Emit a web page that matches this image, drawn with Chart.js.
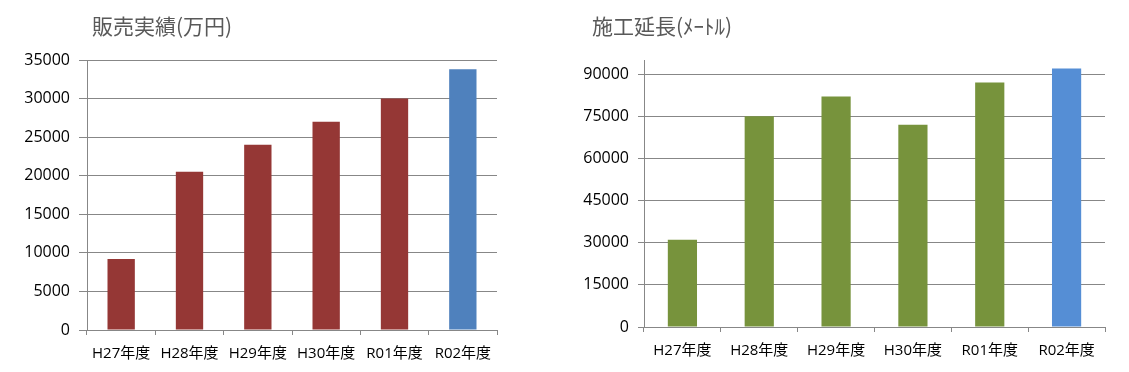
<!DOCTYPE html>
<html>
<head>
<meta charset="utf-8">
<script src="https://cdn.jsdelivr.net/npm/chart.js@4"></script>
<style>
  body { margin: 0; background: #fff; width: 1129px; height: 372px; overflow: hidden; position: relative; }
  .box { position: absolute; top: 0; height: 372px; }
  .title { position: absolute; font-family: "Noto Sans CJK JP", sans-serif; font-size: 21px; color: #595959; white-space: nowrap; line-height: 1; }
</style>
</head>
<body>
<div class="box" style="left:0;width:540px"><canvas id="salesChart"></canvas></div>
<div class="box" style="left:560px;width:569px"><canvas id="lengthChart"></canvas></div>
<div class="title" style="left:92px;top:15px">販売実績(万円)</div>
<div class="title" style="left:592px;top:15px">施工延長(ﾒｰﾄﾙ)</div>
<script>
  const years = ["H27年度", "H28年度", "H29年度", "H30年度", "R01年度", "R02年度"];
  const sales = [9200, 20500, 24000, 27000, 30000, 33800];
  const lengths = [31000, 75000, 82000, 72000, 87000, 92000];
  const salesTicks = [0, 5000, 10000, 15000, 20000, 25000, 30000, 35000];
  const lengthTicks = [0, 15000, 30000, 45000, 60000, 75000, 90000];
  const salesColors = ["#953735", "#953735", "#953735", "#953735", "#953735", "#4F81BD"];
  const lengthColors = ["#77933C", "#77933C", "#77933C", "#77933C", "#77933C", "#558ED5"];

  const yFont = { family: "'Open Sans', 'Noto Sans CJK JP', sans-serif", size: 16 };
  const xFont = { family: "'Open Sans', 'Noto Sans CJK JP', sans-serif", size: 15 };
  const grey = "#878787";

  function makeChart(id, values, colors, tickVals, max, opts) {
    var ctx = document.getElementById(id).getContext("2d");
    return new Chart(ctx, {
      type: "bar",
      data: {
        labels: years,
        datasets: [
          {
            data: values,
            backgroundColor: colors,
            barPercentage: opts.barPct,
            categoryPercentage: 1,
          },
        ],
      },
      options: {
        responsive: false,
        animation: false,
        maintainAspectRatio: false,
        layout: { padding: { top: opts.top, right: opts.right, left: 0, bottom: 0 } },
        plugins: { legend: { display: false }, tooltip: { enabled: false } },
        scales: {
          x: {
            grid: { drawOnChartArea: false, drawTicks: true, tickLength: 5, offset: true, color: grey },
            border: { color: grey, width: 1 },
            ticks: { color: "#000", font: xFont, padding: 10, maxRotation: 0 },
            afterFit: (scale) => { scale.height = opts.xh; },
          },
          y: {
            min: 0,
            max: max,
            grid: { color: grey, tickLength: opts.tl, lineWidth: 1 },
            border: { color: grey, width: 1 },
            ticks: { color: "#000", font: yFont, padding: 9, callback: (v) => String(v) },
            afterBuildTicks: (scale) => { scale.ticks = tickVals.map((v) => ({ value: v })); },
            afterFit: (scale) => { scale.width = opts.yw; },
          },
        },
      },
    });
  }

  document.getElementById("salesChart").width = 540;
  document.getElementById("salesChart").height = 372;
  document.getElementById("lengthChart").width = 569;
  document.getElementById("lengthChart").height = 372;

  makeChart("salesChart", sales, salesColors, salesTicks, 35000,
    { top: 60, right: 43, xh: 42, yw: 87, tl: 8, barPct: 0.4 });
  makeChart("lengthChart", lengths, lengthColors, lengthTicks, 95000,
    { top: 60, right: 24, xh: 45, yw: 84, tl: 6, barPct: 0.38 });
</script>
</body>
</html>
